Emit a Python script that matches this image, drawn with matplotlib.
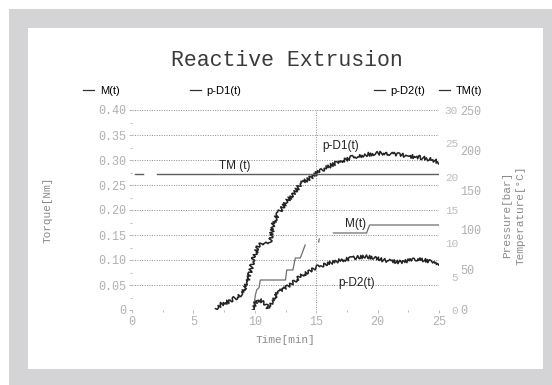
import numpy as np
import matplotlib
matplotlib.use("Agg")
import matplotlib.pyplot as plt
from matplotlib.patches import Rectangle

nan = np.nan

# ---------------- data ----------------
title = "Reactive Extrusion"
x_ticks = [0, 5, 10, 15, 20, 25]
torque_ticks = [0, 0.05, 0.10, 0.15, 0.20, 0.25, 0.30, 0.35, 0.40]
torque_labels = ["0", "0.05", "0.10", "0.15", "0.20", "0.25", "0.30", "0.35", "0.40"]
pressure_ticks = [0, 5, 10, 15, 20, 25, 30]
temp_ticks = [0, 50, 100, 150, 200, 250]
ref_time = 15

pD1_time = [6.8, 7.3, 8.0, 8.5, 8.9, 9.4, 9.85, 10.26, 10.6, 10.9, 11.2, 11.35,
            11.45, 11.7, 12.0, 12.6, 13.3, 13.7, 14.5, 15.1, 15.8, 16.4, 17.1,
            17.75, 18.4, 19.1, 19.8, 20.4, 21.1, 21.8, 22.5, 23.2, 23.8, 24.5, 25.0]
pD1_bar = [0.2, 0.9, 1.35, 1.9, 2.4, 4.0, 7.5, 9.5, 10.0, 9.9, 10.2, 11.1,
           12.6, 13.8, 14.7, 16.3, 17.7, 18.9, 19.8, 20.6, 21.3, 21.9, 22.4,
           22.8, 23.1, 23.3, 23.5, 23.55, 23.4, 23.25, 23.1, 22.95, 22.8, 22.5, 22.2]

pD2_time = [9.8, 10.0, 10.2, 10.5, 10.8, 11.05, 11.3, 11.6, 11.9, 12.5, 13.1,
            13.8, 14.5, 15.1, 15.8, 16.4, 17.1, 17.75, 18.4, 19.1, 19.8, 20.4,
            21.1, 21.8, 22.5, 23.2, 23.8, 24.5, 25.0]
pD2_bar = [0.0, 0.9, 1.5, 1.4, 1.0, 0.4, 0.9, 1.8, 2.7, 3.3, 4.1,
           5.2, 5.8, 6.5, 6.9, 7.2, 7.5, 7.7, 7.9, 8.0, 7.8, 7.5,
           7.3, 7.2, 7.4, 7.6, 7.5, 7.2, 7.0]

M_time = [9.9, 10.05, 10.15, 10.35, 10.45, 12.5, 12.6, 13.1, 13.3, 13.7, 13.8,
          14.1, nan, 15.2, 15.25, nan, 16.4, 19.1, 19.35, 25.0]
M_nm = [0.004, 0.03, 0.04, 0.045, 0.06, 0.06, 0.08, 0.08, 0.104, 0.104, 0.11,
        0.13, nan, 0.136, 0.142, nan, 0.154, 0.154, 0.170, 0.170]

TM_time = [0.25, 0.9, nan, 2.0, 25.0]
TM_degC = [170, 170, nan, 170, 170]

legend_names = ["M(t)", "p-D1(t)", "p-D2(t)", "TM(t)"]

# ---------------- figure ----------------
W, H = 552, 385
fig = plt.figure(figsize=(W / 100, H / 100), dpi=100)
fig.patch.set_facecolor("white")
fig.patches.append(Rectangle((9 / W, 0), (W - 9) / W, (H - 9) / H,
                             transform=fig.transFigure, facecolor="#d4d4d6",
                             edgecolor="none", zorder=-10))
fig.patches.append(Rectangle((28 / W, 16 / H), 515 / W, 341 / H,
                             transform=fig.transFigure, facecolor="white",
                             edgecolor="none", zorder=-9))

ax = fig.add_axes([132 / W, (H - 310) / H, 307 / W, 200 / H])
ax.set_facecolor("none")
ax_p = ax.twinx()
ax_t = ax.twinx()

mono = "Liberation Mono"
sans = "Liberation Sans"
tick_col = "#b0b0b0"

for a in (ax, ax_p, ax_t):
    for s in a.spines.values():
        s.set_visible(False)

ax.set_xlim(0, 25)
ax.set_ylim(0, 0.40)
ax_p.set_ylim(0, 30)
ax_t.set_ylim(0, 250)

ax.set_xticks(x_ticks)
ax.set_xticks([2.5, 7.5, 12.5, 17.5, 22.5], minor=True)
ax.set_yticks(torque_ticks)
ax.set_yticklabels(torque_labels)
ax.set_yticks([0.025 + 0.05 * i for i in range(8)], minor=True)
ax.tick_params(axis="both", which="major", length=2, width=0.6, color=tick_col,
               labelcolor=tick_col, labelsize=8.5, pad=2)
ax.tick_params(axis="both", which="minor", length=1.5, width=0.6, color=tick_col)
for lab in ax.get_xticklabels() + ax.get_yticklabels():
    lab.set_fontfamily(mono)

ax.yaxis.grid(True, linestyle=(0, (1, 1.5)), color="#8a8a8a", linewidth=0.7)
ax.get_ygridlines()[0].set_visible(False)
ax.axvline(ref_time, linestyle=(0, (1, 1.5)), color="#8a8a8a", linewidth=0.7)

ax_p.set_yticks(pressure_ticks)
ax_p.tick_params(axis="y", length=0, labelcolor="#bdbdbd", labelsize=8, pad=13.7)
for lab in ax_p.get_yticklabels():
    lab.set_ha("right")
    lab.set_fontfamily(mono)
ax_t.set_yticks(temp_ticks)
ax_t.tick_params(axis="y", length=0, labelcolor=tick_col, labelsize=8.5, pad=15.5)
for lab in ax_t.get_yticklabels():
    lab.set_fontfamily(mono)

# ---------------- series ----------------
l_tm, = ax_t.plot(TM_time, TM_degC, color="#5e5e5e", lw=1.0)
l_m, = ax.plot(M_time, M_nm, color="#6e6e6e", lw=0.9)
l_d2, = ax_p.plot(pD2_time, pD2_bar, color="#222222", lw=1.1)
l_d1, = ax_p.plot(pD1_time, pD1_bar, color="#222222", lw=1.1)
l_d1.set_sketch_params(scale=2.0, length=2.0, randomness=3.0)
l_d2.set_sketch_params(scale=1.8, length=2.0, randomness=3.0)

# in-plot labels
lab_kw = dict(fontfamily=sans, fontsize=8.5, color="#222222", ha="center", va="center")
ax.text(8.4, 0.288, "TM (t)", **lab_kw)
ax.text(17.0, 0.328, "p-D1(t)", **lab_kw)
ax.text(18.2, 0.172, "M(t)", **lab_kw)
ax.text(18.25, 0.054, "p-D2(t)", **lab_kw)

# legend entries along the top
handles = [l_m, l_d1, l_d2, l_tm]
leg_x = [83, 190, 374, 439]
for h, name, xp in zip(handles, legend_names, leg_x):
    lg = fig.legend([h], [name], loc="center left",
                    bbox_to_anchor=(xp / W, 1 - 91 / H), frameon=False,
                    prop={"family": sans, "size": 8}, handlelength=1.0,
                    handletextpad=0.5, borderpad=0, borderaxespad=0)
    for ln in lg.get_lines():
        ln.set_sketch_params(None)
        ln.set_color("#333333")
        ln.set_linewidth(0.9)

# titles / labels
fig.text(287 / W, 1 - 60 / H, title, fontfamily=mono, fontsize=15.5,
         color="#3a3a3a", ha="center", va="center")
fig.text(285 / W, 1 - 340 / H, "Time[min]", fontfamily=mono, fontsize=8,
         color="#8a8a8a", ha="center", va="center")
fig.text(48 / W, 1 - 210 / H, "Torque[Nm]", fontfamily=mono, fontsize=8,
         color="#8a8a8a", ha="center", va="center", rotation=90)
fig.text(507 / W, 1 - 215 / H, "Pressure[bar]", fontfamily=mono, fontsize=8,
         color="#8a8a8a", ha="center", va="center", rotation=90)
fig.text(521 / W, 1 - 215 / H, "Temperature[°C]", fontfamily=mono, fontsize=8,
         color="#8a8a8a", ha="center", va="center", rotation=90)

fig.savefig("out.png", dpi=100)
